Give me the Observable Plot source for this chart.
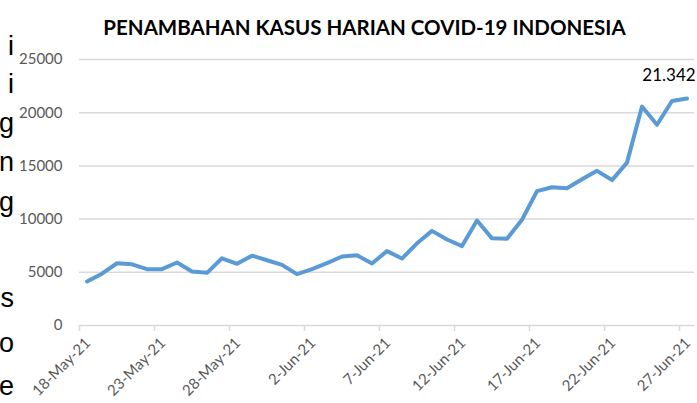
<!DOCTYPE html>
<html>
<head>
<meta charset="utf-8">
<script src="https://cdn.jsdelivr.net/npm/d3@7"></script>
<script src="https://cdn.jsdelivr.net/npm/@observablehq/plot@0.6"></script>
<style>
  html, body { margin: 0; padding: 0; background: #fff; }
  #chart { width: 697px; height: 403px; overflow: hidden; }
</style>
</head>
<body>
<div id="chart"></div>
<script>
// ---- data ----
const title = "PENAMBAHAN KASUS HARIAN COVID-19 INDONESIA";
const dayIndex = d3.range(41); // 18-May-21 .. 27-Jun-21
const cases = [
  4140, 4871, 5850, 5746, 5296, 5297, 5920, 5080, 4950, 6320,
  5800, 6565, 6130, 5700, 4824, 5300, 5860, 6486, 6594, 5832,
  6993, 6294, 7725, 8892, 8083, 7465, 9868, 8189, 8161, 9944,
  12624, 12990, 12906, 13737, 14536, 13668, 15308, 20574, 18872, 21095,
  21342
];
const tickIndex = [0, 5, 10, 15, 20, 25, 30, 35, 40];
const tickLabels = ["18-May-21", "23-May-21", "28-May-21", "2-Jun-21", "7-Jun-21",
                    "12-Jun-21", "17-Jun-21", "22-Jun-21", "27-Jun-21"];
const yTicks = [0, 5000, 10000, 15000, 20000, 25000];
const lastLabel = "21.342";
const sideLetters = ["i", "i", "g", "n", "g", "s", "o", "e"];
const sideBaselines = [55, 93, 132, 171, 211, 307, 352, 395];

const rows = dayIndex.map((i) => ({ i, v: cases[i] }));
const ticks = tickIndex.map((i, k) => ({ i, label: tickLabels[k] }));
const boundaries = tickIndex.map((i) => i - 0.5);

const font = "Lato, 'Open Sans', sans-serif";
const grey = "#595959";

const plot = Plot.plot({
  width: 697,
  height: 403,
  marginTop: 59,
  marginBottom: 78,
  marginLeft: 79,
  marginRight: 3,
  style: { fontFamily: font, background: "#fff", overflow: "visible" },
  x: { domain: [-0.5, 40.5], axis: null, label: null },
  y: { domain: [0, 25000], axis: null, label: null },
  marks: [
    Plot.ruleY(yTicks, { stroke: "#d9d9d9", strokeWidth: 1.5 }),
    Plot.axisX(boundaries, { tickSize: 6, stroke: "#d9d9d9", strokeWidth: 1.5, tickFormat: () => "", label: null }),
    Plot.axisY(yTicks, { tickSize: 0, tickPadding: 17, fontSize: 15, fill: grey, tickFormat: (d) => String(d), label: null }),
    Plot.text(ticks, { x: "i", y: () => 0, text: "label", rotate: -45, textAnchor: "end",
                       dy: 15, dx: 1, fontSize: 15, fill: grey }),
    Plot.line(rows, { x: "i", y: "v", stroke: "#5b9bd5", strokeWidth: 4,
                      strokeLinejoin: "round", strokeLinecap: "round" }),
    Plot.text([rows[rows.length - 1]], { x: "i", y: "v", text: () => lastLabel, fontSize: 17,
                      fill: "#000", dx: -18, dy: -23 }),
    Plot.text([title], { frameAnchor: "top", text: (d) => d, dx: -22.5, dy: -39,
                      fontSize: 20.5, fontWeight: "bold", fill: "#000" })
  ]
});

document.getElementById("chart").appendChild(plot);

// page fragment cut off on the left edge of the picture
const svg = d3.select(plot);
svg.append("g")
  .attr("font-family", "'Liberation Sans', Arial, sans-serif")
  .attr("font-size", 27)
  .attr("fill", "#000")
  .selectAll("text")
  .data(sideLetters)
  .join("text")
  .attr("x", 14)
  .attr("y", (d, k) => sideBaselines[k])
  .attr("text-anchor", "end")
  .text((d) => d);
</script>
</body>
</html>
